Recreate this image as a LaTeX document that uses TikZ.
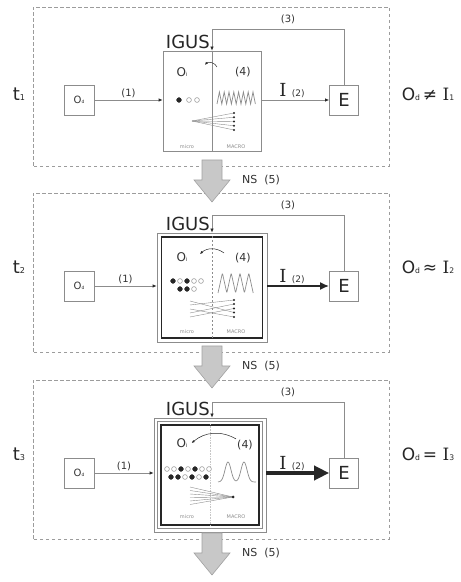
\documentclass[tikz,border=0pt]{standalone}
\usepackage{fontspec}
\setmainfont{DejaVu Sans}
\newfontfamily\serifI{DejaVu Serif}
\usetikzlibrary{arrows.meta,positioning,calc}
\definecolor{igusInk}{HTML}{262626}
\definecolor{igusText}{HTML}{333333}
\definecolor{igusLine}{HTML}{8C8C8C}
\definecolor{igusDash}{HTML}{9C9C9C}
\definecolor{igusArrowFill}{HTML}{C8C8C8}
\definecolor{igusArrowEdge}{HTML}{A2A2A2}
\newcommand{\idx}[1]{\scalebox{0.45}{#1}}
\tikzset{
  panel/.style={draw=igusDash,line width=0.6pt,dash pattern=on 3.5pt off 2.5pt},
  smallbox/.style={draw=igusLine,line width=0.7pt,minimum width=30pt,minimum height=30pt,inner sep=0pt,text=igusText},
  igusbox/.style={draw=igusLine,line width=0.7pt,minimum width=98pt,minimum height=100pt,inner sep=0pt},
  core/.style={draw=igusInk,line width=1.4pt,inner sep=0pt},
  divider/.style={draw=igusLine,line width=0.6pt},
  link/.style={draw=igusLine,line width=0.7pt,-{Latex[length=4pt,width=3.5pt,color=igusInk]}},
  effect1/.style={link},
  effect2/.style={draw=igusInk,line width=1.8pt,-{Latex[length=9pt,width=8pt]}},
  effect3/.style={draw=igusInk,line width=3.6pt,-{Triangle[length=15pt,width=14pt]}},
  curl/.style={draw=igusInk,line width=0.5pt,-{Latex[length=3pt,width=2.6pt]}},
  wave/.style={draw=igusLine,line width=0.7pt},
  fanline/.style={draw=igusLine,line width=0.4pt},
  lbl/.style={text=igusText,font=\fontsize{10}{11}\selectfont,inner sep=1pt},
  bigtext/.style={text=igusInk,font=\fontsize{18}{20}\selectfont,inner sep=0pt},
  tiny/.style={text=igusLine,font=\fontsize{5}{6}\selectfont,inner sep=0pt},
  fulldot/.style={fill=igusInk,draw=igusInk,line width=0.4pt},
  opendot/.style={fill=white,draw=igusLine,line width=0.5pt},
  nsarrow/.style={fill=igusArrowFill,draw=igusArrowEdge,line width=0.6pt},
}

\begin{document}
\begin{tikzpicture}[x=1pt,y=1pt]
\useasboundingbox (0,0) rectangle (461,582);

% t1: one IGUS box
\begin{scope}[yshift=482pt]
  \node[igusbox] (igus1) at (212,-1) {};
  \draw[divider] (igus1.north) -- (igus1.south);
  \node[lbl,font=\fontsize{12}{13}\selectfont] (oi1) at (182,28) {O\idx{i}};
  \node[lbl,font=\fontsize{11}{12}\selectfont] (four1) at (243,28) {(4)};
  \coordinate (cu1) at (217,33);
  \coordinate (cv1) at (205,35);
  \draw[curl] (cu1) to[bend right=60] (cv1);
  \foreach \x/\s in {179/fulldot,189/opendot,197/opendot}
    \draw[\s] (\x,0) circle (2.4);
  \draw[wave] (217,-4) \foreach \i in {1,...,8} {-- ++(2.4,12) -- ++(2.4,-12)};
  \coordinate (fan1) at (192,-21);
  \foreach \b in {-13,-17.25,-21.5,-25.75,-30} {
    \draw[fanline] (fan1) -- (234,\b);
    \fill[igusInk] (234,\b) circle (1.1);}
  \node[tiny] at (187,-47) {micro};
  \node[tiny] at (236,-47) {MACRO};
\end{scope}

% t2: framed IGUS
\begin{scope}[yshift=296pt]
  \node[igusbox,minimum width=110pt,minimum height=109pt] (igus2) at (212,-1.5) {};
  \node[core,minimum width=101pt,minimum height=101pt] (core2) at (igus2.center) {};
  \draw[divider,dash pattern=on 2pt off 2pt] (core2.north) -- (core2.south);
  \node[lbl,font=\fontsize{12}{13}\selectfont] (oi2) at (182,29) {O\idx{i}};
  \node[lbl,font=\fontsize{11}{12}\selectfont] (four2) at (243,28) {(4)};
  \coordinate (cu2) at (224,33);
  \coordinate (cv2) at (200,32);
  \draw[curl] (cu2) to[bend right=40] (cv2);
  \foreach \x/\s in {173/fulldot,180/opendot,187/fulldot,194/opendot,201/opendot}
    \draw[\s] (\x,5) circle (2.4);
  \foreach \x/\s in {180/fulldot,187/fulldot,194/opendot}
    \draw[\s] (\x,-3) circle (2.4);
  \draw[wave,rounded corners=1pt] (218,-7) \foreach \i in {1,...,4} {-- ++(4.4,20) -- ++(4.4,-20)};
  \foreach \a/\b in {-15/-26.5,-19/-14,-23/-31,-27/-18,-31/-22.5} {
    \draw[fanline] (190,\a) -- (234,\b);
    \fill[igusInk] (234,\b) circle (1.1);}
  \node[tiny] at (187,-46) {micro};
  \node[tiny] at (236,-46) {MACRO};
\end{scope}

% t3: double framed IGUS
\begin{scope}[yshift=109pt]
  \node[igusbox,minimum width=112pt,minimum height=114pt] (igus3) at (210,-2) {};
  \node[igusbox,minimum width=105pt,minimum height=107pt] (ring3) at (igus3.center) {};
  \node[core,line width=1.8pt,minimum width=98pt,minimum height=100pt] (core3) at (igus3.center) {};
  \draw[divider,igusLine!50,densely dotted] (core3.north) -- (core3.south);
  \node[lbl,font=\fontsize{12}{13}\selectfont] (oi3) at (182,30) {O\idx{i}};
  \node[lbl,font=\fontsize{11}{12}\selectfont] (four3) at (245,28) {(4)};
  \draw[curl] (four3.north west) to[bend right=35] ([xshift=3pt]oi3.east);
  \foreach \x/\s in {167/opendot,174/opendot,181/fulldot,188/opendot,195/fulldot,202/opendot,209/opendot}
    \draw[\s] (\x,4) circle (2.4);
  \foreach \x/\s in {171/fulldot,178/fulldot,185/opendot,192/fulldot,199/opendot,206/fulldot}
    \draw[\s] (\x,-4) circle (2.4);
  \draw[wave] plot[domain=218:256,samples=70,smooth]
    (\x,{-9+20*exp(-((\x-228)^2)/18)+20*exp(-((\x-244)^2)/18)});
  \coordinate (fan3) at (233,-24);
  \foreach \a in {-14,-17.5,-21,-24.5,-28,-31.5}
    \draw[fanline] (190,\a) -- (fan3);
  \fill[igusInk] (fan3) circle (1.5);
  \node[tiny] at (187,-44) {micro};
  \node[tiny] at (236,-44) {MACRO};
\end{scope}

% parts every step shares
\foreach \k/\yy/\dy/\rel in {1/482/6/≠,2/296/19/≈,3/109/19/=} {
  \begin{scope}[yshift=\yy pt]
    \draw[panel] (33,-66) rectangle (389,93);
    \node[bigtext] (t\k) at (19,\dy) {t\idx{\k}};
    \node[smallbox,font=\fontsize{10}{11}\selectfont] (od\k) at (79,0) {O\idx{d}};
    \node[smallbox,minimum width=29pt,text=igusInk,font=\fontsize{18}{18}\selectfont] (e\k) at (344,0) {E};
    \node[bigtext,font=\fontsize{17}{19}\selectfont] (rel\k) at (428,\dy) {O\idx{d}\,\rel\ {\serifI I}\idx{\k}};
    \draw[link] (od\k.east) -- node[lbl,above=1pt] {(1)} (od\k.east -| igus\k.west);
    \draw[effect\k] (igus\k.east |- e\k.west) -- (e\k.west);
    \node[bigtext,font=\serifI\fontsize{18}{18}\selectfont] (i\k) at (283,10) {I};
    \node[lbl,font=\fontsize{9}{10}\selectfont,anchor=base west] at ([xshift=4pt]i\k.base east) {(2)};
    \coordinate (fb\k) at (212,71);
    \draw[link] (e\k.north) |- (fb\k) -- (fb\k |- igus\k.north);
    \node[lbl] at (288,81) {(3)};
    \node[bigtext,anchor=south east] at ([xshift=-2pt,yshift=2pt]fb\k |- igus\k.north) {IGUS};
  \end{scope}}

% natural selection arrows
\foreach \k/\yy in {1/482,2/296,3/109} {
  \begin{scope}[yshift=\yy pt]
    \coordinate (ns\k) at (212,-60);
    \draw[nsarrow] ($(ns\k)+(-10,0)$) -- ++(0,-20) -- ++(-8,0) -- ($(ns\k)+(0,-42)$)
      -- ($(ns\k)+(18,-20)$) -- ++(-8,0) -- ($(ns\k)+(10,0)$) -- cycle;
    \node[lbl,font=\fontsize{11}{12}\selectfont] at (261,-80) {NS\ \ (5)};
  \end{scope}}
\end{tikzpicture}
\end{document}
